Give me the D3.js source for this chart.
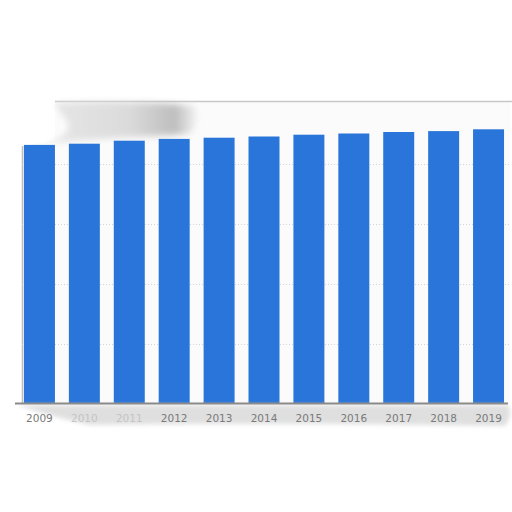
<!DOCTYPE html>
<html lang="en">
<head>
  <meta charset="UTF-8">
  <title>Bar chart</title>
  <style>
    body { margin: 0; background: #fff; }
  </style>
</head>
<body>
  <svg id="svg" width="512" height="512"></svg>

  <script src="https://d3js.org/d3.v7.min.js"></script>
  <script>
    const years = ['2009', '2010', '2011', '2012', '2013', '2014', '2015', '2016', '2017', '2018', '2019']
    const values = [43.1, 43.3, 43.8, 44.1, 44.3, 44.5, 44.8, 45.0, 45.25, 45.4, 45.7]
    const gridTicks = [10, 20, 30, 40]
    // labels washed out by the smudge in the original
    const fadedLabels = ['2010', '2011']

    const svg = d3.select('#svg')

    const xScale = d3.scaleBand()
      .domain(years)
      .range([17, 511])
      .paddingInner(0.31)
      .paddingOuter(0.155)

    const yScale = d3.scaleLinear()
      .domain([0, 50])
      .range([403.5, 103.5])

    const defs = svg.append('defs')
    defs.append('filter').attr('id', 'blur')
      .attr('x', '-20%').attr('y', '-50%').attr('width', '140%').attr('height', '200%')
      .append('feGaussianBlur').attr('stdDeviation', 3)
    defs.append('filter').attr('id', 'blur2')
      .attr('x', '-20%').attr('y', '-50%').attr('width', '140%').attr('height', '200%')
      .append('feGaussianBlur').attr('stdDeviation', 2)

    const grad = defs.append('linearGradient').attr('id', 'smudge')
      .attr('x1', '0%').attr('x2', '100%').attr('y1', '0%').attr('y2', '0%')
    grad.append('stop').attr('offset', '0%').attr('stop-color', '#e4e4e4')
    grad.append('stop').attr('offset', '55%').attr('stop-color', '#d6d6d6')
    grad.append('stop').attr('offset', '85%').attr('stop-color', '#b4b4b4')
    grad.append('stop').attr('offset', '100%').attr('stop-color', '#f4f4f4')

    // light plot background (left corner left white, as in the original)
    svg.append('path')
      .attr('d', 'M55,101 L510,101 L510,403 L22,403 L22,146 L55,140 Z')
      .attr('fill', '#fbfbfb')

    // top border
    svg.append('line')
      .attr('x1', 55).attr('x2', 512)
      .attr('y1', 101.5).attr('y2', 101.5)
      .attr('stroke', '#c8c8c8')
      .attr('stroke-width', 1.5)

    // left border
    svg.append('line')
      .attr('x1', 22.5).attr('x2', 22.5)
      .attr('y1', 146).attr('y2', 403)
      .attr('stroke', '#bdbdbd')
      .attr('stroke-width', 1.5)

    // smudge in the top-left corner
    svg.append('path')
      .attr('d', 'M55,103 C100,101 160,102 195,106 C200,116 198,128 188,134 C160,136 120,137 72,141 L45,144 C62,138 70,132 68,124 C65,116 58,112 55,103 Z')
      .attr('fill', 'url(#smudge)')
      .attr('opacity', 0.85)
      .attr('filter', 'url(#blur)')

    // dotted gridlines
    svg.append('g')
      .selectAll('line')
      .data(gridTicks)
      .enter()
      .append('line')
      .attr('x1', 22).attr('x2', 510)
      .attr('y1', d => Math.round(yScale(d)) + 0.5)
      .attr('y2', d => Math.round(yScale(d)) + 0.5)
      .attr('stroke', '#d4d4d4')
      .attr('stroke-dasharray', '1,2')

    // bars
    svg.append('g')
      .selectAll('rect')
      .data(values)
      .enter()
      .append('rect')
      .attr('x', (d, i) => xScale(years[i]))
      .attr('y', d => yScale(d))
      .attr('width', xScale.bandwidth())
      .attr('height', d => yScale(0) - yScale(d))
      .attr('fill', '#2a75d9')

    // shadow under the axis
    svg.append('path')
      .attr('d', 'M18,405 L508,405 C512,412 510,420 505,426 C400,424 200,423 90,425 C60,418 35,412 18,405 Z')
      .attr('fill', '#d8d8d8')
      .attr('opacity', 0.8)
      .attr('filter', 'url(#blur2)')

    // baseline
    svg.append('line')
      .attr('x1', 15).attr('x2', 508)
      .attr('y1', yScale(0)).attr('y2', yScale(0))
      .attr('stroke', '#8a8a8a')
      .attr('stroke-width', 2)

    // x axis labels
    svg.append('g')
      .selectAll('text')
      .data(years)
      .enter()
      .append('text')
      .attr('x', d => xScale(d) + xScale.bandwidth() / 2)
      .attr('y', 422)
      .attr('text-anchor', 'middle')
      .style('font-family', 'DejaVu Sans')
      .style('font-size', '10.5px')
      .attr('fill', d => fadedLabels.includes(d) ? '#c4c4c4' : '#7a7a7a')
      .text(d => d)
  </script>
</body>
</html>
